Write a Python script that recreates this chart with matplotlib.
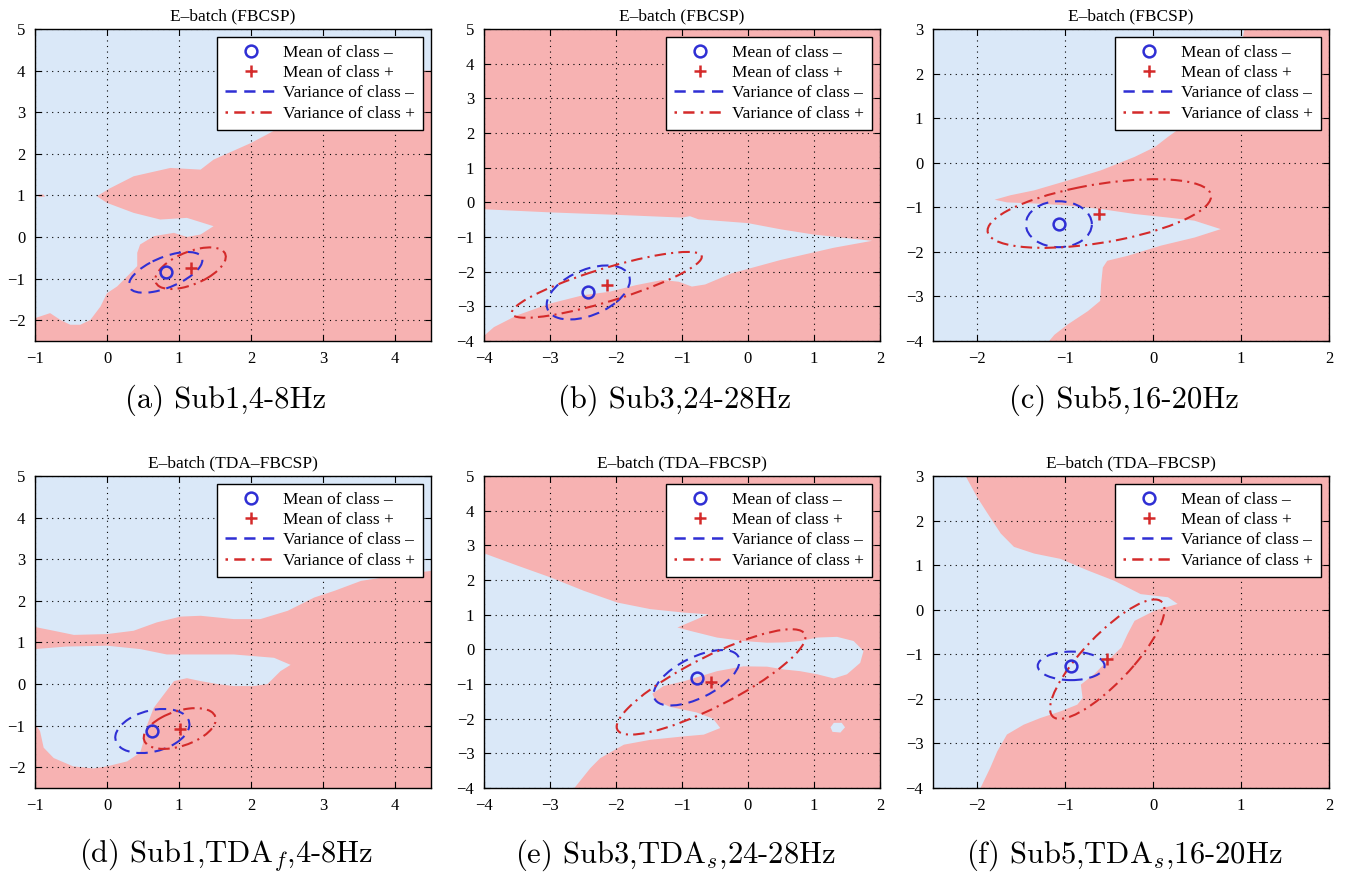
import matplotlib
matplotlib.use("Agg")
import matplotlib.pyplot as plt
from matplotlib.patches import Ellipse, Polygon
from matplotlib.lines import Line2D
import numpy as np

plt.rcParams['font.family'] = ['Liberation Serif', 'DejaVu Serif']
plt.rcParams['mathtext.fontset'] = 'cm'

pink = '#f7b2b2'
light_blue = '#dae8f8'
blue = '#2f2fd4'
red = '#d42a2a'

titles = ['E\u2013batch (FBCSP)'] * 3 + ['E\u2013batch (TDA\u2013FBCSP)'] * 3
captions = ['(a) Sub1,4-8Hz', '(b) Sub3,24-28Hz', '(c) Sub5,16-20Hz',
            '(d) Sub1,TDA$_f$,4-8Hz', '(e) Sub3,TDA$_s$,24-28Hz', '(f) Sub5,TDA$_s$,16-20Hz']

xlims = [(-1, 4.5), (-4, 2), (-2.5, 2), (-1, 4.5), (-4, 2), (-2.5, 2)]
ylims = [(-2.5, 5), (-4, 5), (-4, 3), (-2.5, 5), (-4, 5), (-4, 3)]
xticks = [range(-1, 5), range(-4, 3), range(-2, 3), range(-1, 5), range(-4, 3), range(-2, 3)]
yticks = [range(-2, 6), range(-4, 6), range(-4, 4), range(-2, 6), range(-4, 6), range(-4, 4)]

# class means
mean_neg = [(0.815, -0.85), (-2.42, -2.60), (-1.07, -1.38),
            (0.63, -1.13), (-0.78, -0.82), (-0.93, -1.26)]
mean_pos = [(1.16, -0.75), (-2.14, -2.38), (-0.61, -1.14),
            (1.01, -1.07), (-0.56, -0.94), (-0.52, -1.11)]

# variance ellipses: (std x, std y, correlation)
var_neg = [(0.51, 0.49, 0.6), (0.63, 0.78, 0.45), (0.375, 0.515, 0.0),
           (0.515, 0.53, 0.3), (0.65, 0.8, 0.6), (0.38, 0.32, 0.0)]
var_pos = [(0.49, 0.50, 0.55), (1.44, 0.95, 0.85), (1.27, 0.77, 0.5),
           (0.50, 0.49, 0.45), (1.43, 1.52, 0.85), (0.65, 1.34, 0.83)]

# decision regions: background class colour, and polygons of the other class
region_bg = ['neg', 'pos', 'neg', 'pos', 'pos', 'pos']

region_a = [
    [(4.5, 4.0), (4.3, 4.0), (3.5, 3.2), (2.5, 2.72), (2.0, 2.26), (1.48, 1.86), (1.30, 1.62),
     (0.88, 1.66), (0.37, 1.46), (0.04, 1.17), (-0.14, 0.98), (0.0, 0.82), (0.37, 0.58),
     (0.74, 0.42), (1.11, 0.46), (1.48, 0.26), (1.30, 0.06), (1.11, 0.0), (0.93, 0.10),
     (0.65, 0.02), (0.46, -0.18), (0.42, -0.38), (0.42, -0.7), (0.37, -0.79), (0.14, -1.19),
     (0.0, -1.35), (-0.09, -1.67), (-0.23, -1.99), (-0.37, -2.11), (-0.51, -2.11),
     (-0.65, -1.99), (-0.79, -1.83), (-0.93, -1.91), (-1.0, -1.95), (-1.0, -2.5), (4.5, -2.5)],
    [(-0.95, 1.02), (-0.88, 1.02), (-0.86, 0.97), (-0.95, 0.96)],
]
region_b = [
    [(-4, -0.2), (-3, -0.29), (-2, -0.36), (-1, -0.44), (-0.88, -0.40), (-0.75, -0.49),
     (0, -0.6), (0.5, -0.78), (1, -0.93), (1.88, -1.11), (1.3, -1.31), (0.5, -1.66),
     (-0.25, -2.05), (-0.65, -2.37), (-0.85, -2.43), (-1.05, -2.29), (-1.3, -2.24),
     (-1.7, -2.39), (-2.1, -2.58), (-2.5, -2.68), (-3, -2.92), (-3.5, -3.26),
     (-3.85, -3.6), (-4, -3.85)],
]
region_c = [
    [(1.04, 3), (2, 3), (2, -4), (-1.18, -4), (-1.12, -3.86), (-0.97, -3.63), (-0.74, -3.33),
     (-0.6, -3.1), (-0.59, -2.73), (-0.57, -2.35), (-0.52, -2.20), (-0.29, -2.09),
     (0.09, -1.86), (0.47, -1.68), (0.77, -1.49), (0.47, -1.30), (0.17, -1.23),
     (-0.21, -1.15), (-0.59, -1.04), (-0.97, -0.96), (-1.28, -0.92), (-1.66, -0.89),
     (-1.80, -0.83), (-1.62, -0.73), (-1.35, -0.62), (-0.97, -0.40), (-0.59, -0.17),
     (-0.21, 0.13), (0.02, 0.35), (0.17, 0.58), (0.34, 0.82), (0.7, 1.6), (1.0, 2.6)],
]
region_d = [
    [(-1, 5), (-1, 1.37), (-0.74, 1.28), (-0.46, 1.18), (0, 1.2), (0.37, 1.28), (0.69, 1.48),
     (1.02, 1.62), (1.30, 1.64), (1.76, 1.56), (2.13, 1.56), (2.51, 1.76), (2.88, 2.08),
     (3.16, 2.24), (3.53, 2.48), (3.99, 2.6), (4.5, 2.72), (4.5, 5)],
    [(-1, 0.84), (-0.56, 0.90), (0, 0.92), (0.46, 0.84), (0.83, 0.71), (1.30, 0.71),
     (1.76, 0.71), (2.32, 0.63), (2.55, 0.46), (2.41, 0.31), (2.23, 0.0), (2.04, -0.05),
     (1.76, -0.05), (1.53, 0.0), (1.30, 0.07), (1.11, 0.14), (0.93, 0.07), (0.79, -0.25),
     (0.65, -0.57), (0.56, -0.97), (0.51, -1.37), (0.46, -1.65), (0.28, -1.86), (0, -1.98),
     (-0.19, -2.03), (-0.47, -1.98), (-0.74, -1.78), (-0.88, -1.53), (-0.93, -1.13),
     (-0.98, -1.01), (-1, -0.97)],
]
region_e = [
    [(-4, 2.77), (-3.5, 2.42), (-3.0, 2.08), (-2.49, 1.69), (-1.98, 1.35), (-1.48, 1.16),
     (-0.97, 1.06), (-0.60, 1.01), (-1.07, 0.63), (-0.87, 0.53), (-0.47, 0.34), (-0.07, 0.24),
     (0.29, 0.19), (0.55, 0.20), (0.79, 0.24), (1.05, 0.34), (1.35, 0.36), (1.60, 0.24),
     (1.75, -0.05), (1.70, -0.39), (1.50, -0.72), (1.30, -0.84), (1.05, -0.72), (0.79, -0.63),
     (0.54, -0.58), (0.29, -0.50), (-0.07, -0.49), (-0.47, -0.63), (-0.97, -0.92),
     (-1.28, -1.06), (-1.45, -1.28), (-1.40, -1.48), (-1.18, -1.66), (-0.78, -1.82),
     (-0.53, -2.0), (-0.42, -2.27), (-0.67, -2.46), (-0.97, -2.51), (-1.48, -2.61),
     (-1.88, -2.75), (-2.24, -3.14), (-2.39, -3.43), (-2.63, -4.0), (-4, -4)],
    [(1.25, -2.25), (1.30, -2.12), (1.42, -2.12), (1.47, -2.25), (1.40, -2.40), (1.28, -2.38)],
]
region_f = [
    [(-2.5, 3), (-2.13, 3), (-2.0, 2.53), (-1.88, 2.16), (-1.73, 1.71), (-1.58, 1.41),
     (-1.35, 1.26), (-1.05, 1.14), (-0.74, 0.88), (-0.44, 0.65), (-0.14, 0.35), (0.17, 0.28),
     (0.28, 0.13), (0.02, -0.02), (-0.21, -0.25), (-0.29, -0.55), (-0.36, -0.85),
     (-0.52, -1.15), (-0.67, -1.45), (-0.82, -1.68), (-0.80, -1.98), (-0.86, -2.13),
     (-1.05, -2.28), (-1.28, -2.43), (-1.47, -2.58), (-1.66, -2.80), (-1.77, -3.18),
     (-1.85, -3.55), (-1.96, -4.0), (-2.5, -4)],
]
regions = [region_a, region_b, region_c, region_d, region_e, region_f]

# axes placement in pixels (left, top, right, bottom) of a 1358x877 figure
W, H = 1358, 877
col_px = [(35, 431), (484, 880), (933, 1329)]
row_px = [(29, 341), (476, 788)]
caption_y = [400, 855]


def cov_ellipse(ax, mean, var, color, dashes):
    sx, sy, rho = var
    cov = np.array([[sx * sx, rho * sx * sy], [rho * sx * sy, sy * sy]])
    vals, vecs = np.linalg.eigh(cov)
    angle = np.degrees(np.arctan2(vecs[1, 1], vecs[0, 1]))
    e = Ellipse(mean, 2 * np.sqrt(vals[1]), 2 * np.sqrt(vals[0]), angle=angle,
                fill=False, edgecolor=color, linewidth=1.5, zorder=3)
    e.set_linestyle((0, dashes))
    ax.add_patch(e)


fig = plt.figure(figsize=(W / 100, H / 100), dpi=100)

for i in range(6):
    r, c = divmod(i, 3)
    l, rr = col_px[c]
    t, b = row_px[r]
    ax = fig.add_axes([l / W, 1 - b / H, (rr - l) / W, (b - t) / H])

    bg = light_blue if region_bg[i] == 'neg' else pink
    fg = pink if region_bg[i] == 'neg' else light_blue
    ax.set_facecolor(bg)
    for poly in regions[i]:
        ax.add_patch(Polygon(poly, closed=True, facecolor=fg, edgecolor='none', zorder=1))

    cov_ellipse(ax, mean_neg[i], var_neg[i], blue, (5.5, 3.3))
    cov_ellipse(ax, mean_pos[i], var_pos[i], red, (5.5, 2.5, 1, 2.5))
    ax.plot(*mean_neg[i], 'o', color=blue, markerfacecolor='none', markersize=8.5,
            markeredgewidth=1.8, zorder=4)
    ax.plot(*mean_pos[i], '+', color=red, markersize=9, markeredgewidth=1.8, zorder=4)

    ax.set_xlim(*xlims[i])
    ax.set_ylim(*ylims[i])
    ax.set_xticks(list(xticks[i]))
    ax.set_yticks(list(yticks[i]))
    ax.tick_params(direction='in', top=True, right=True, length=4, width=0.8,
                   labelsize=12, pad=7)
    ax.grid(True, color='k', linestyle=(0, (1, 4)), linewidth=0.8)
    for sp in ax.spines.values():
        sp.set_linewidth(1.0)
    ax.set_title(titles[i], fontsize=12.5, pad=6)

    handles = [
        Line2D([], [], linestyle='none', marker='o', color=blue, markerfacecolor='none',
               markersize=8.5, markeredgewidth=1.8),
        Line2D([], [], linestyle='none', marker='+', color=red, markersize=9,
               markeredgewidth=1.8),
        Line2D([], [], color=blue, linewidth=1.8, linestyle=(0, (4.5, 3.0))),
        Line2D([], [], color=red, linewidth=1.8, linestyle=(0, (1, 2.5, 4.5, 2.5))),
    ]
    labels = ['Mean of class \u2013', 'Mean of class +',
              'Variance of class \u2013', 'Variance of class +']
    leg = ax.legend(handles, labels, loc='upper right', fontsize=12.5, fancybox=False,
                    framealpha=1, edgecolor='k', handlelength=3.0, handletextpad=0.35,
                    labelspacing=0.24, borderpad=0.45, borderaxespad=0.45)
    leg.get_frame().set_linewidth(1.0)

    fig.text((l + rr) / 2 / W - 7 / W, 1 - caption_y[r] / H, captions[i],
             family='cmr10', fontsize=22, ha='center', va='center')

fig.savefig('out.png', dpi=100)
